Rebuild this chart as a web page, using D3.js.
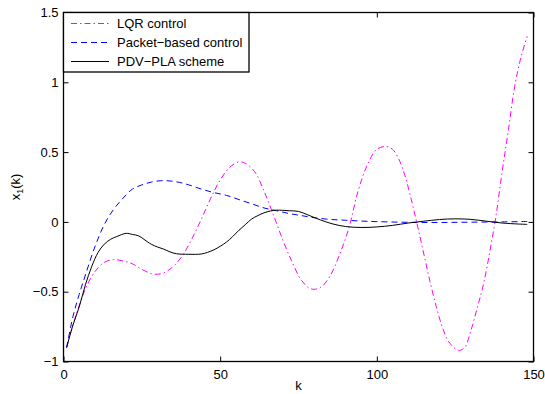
<!DOCTYPE html>
<html>
<head>
<meta charset="utf-8">
<script src="https://cdn.jsdelivr.net/npm/d3@7"></script>
<style>
  body { margin: 0; background: #fff; }
  svg { display: block; font-family: "Liberation Sans", Arial, Helvetica, sans-serif; }
</style>
</head>
<body>
<svg id="chart" width="545" height="394"></svg>
<script>
// ---- data ----
const lqrK = [1,3,5,7,9,11,13,16,19,22,25,28,30,32,35,38,41,44,47,50,53,56,58,61,64,67,70,73,76,79,82,85,88,91,94,97,100,103,105,107,109,111,113,115,117,119,121,123,126,128,130,132,134,136,138,140,142,144,146,148];
const lqrV = [-0.90,-0.74,-0.60,-0.48,-0.39,-0.33,-0.29,-0.27,-0.28,-0.30,-0.34,-0.37,-0.375,-0.365,-0.32,-0.24,-0.12,0.02,0.17,0.30,0.39,0.43,0.42,0.36,0.22,0.05,-0.13,-0.29,-0.42,-0.48,-0.47,-0.39,-0.24,-0.05,0.22,0.41,0.52,0.54,0.52,0.45,0.33,0.16,-0.03,-0.23,-0.43,-0.61,-0.76,-0.86,-0.92,-0.90,-0.78,-0.62,-0.45,-0.22,0.04,0.36,0.66,0.97,1.18,1.33];

const pktK = [1,3,5,7,10,13,16,19,22,25,28,31,34,37,40,44,48,52,56,60,64,68,72,76,80,85,90,95,100,110,120,130,140,148];
const pktV = [-0.90,-0.68,-0.52,-0.38,-0.18,-0.02,0.09,0.17,0.235,0.265,0.285,0.295,0.293,0.283,0.265,0.235,0.21,0.19,0.16,0.13,0.10,0.08,0.06,0.045,0.03,0.018,0.012,0.006,0.002,-0.003,-0.004,-0.002,0.0,0.003];

const pdvK = [1,3,5,7,9,11,13,15,17,20,22,24,26,28,30,32,34,36,40,44,46,48,50,52,54,56,58,60,62,64,66,68,72,75,78,82,86,90,95,100,105,110,115,120,125,130,135,140,145,148];
const pdvV = [-0.90,-0.74,-0.61,-0.45,-0.32,-0.22,-0.16,-0.125,-0.105,-0.082,-0.09,-0.10,-0.13,-0.16,-0.18,-0.195,-0.215,-0.228,-0.232,-0.23,-0.218,-0.2,-0.175,-0.145,-0.105,-0.06,-0.02,0.02,0.045,0.065,0.078,0.084,0.08,0.075,0.05,0.014,-0.015,-0.033,-0.04,-0.036,-0.025,-0.008,0.005,0.017,0.022,0.018,0.005,-0.008,-0.015,-0.018];

const xTicks = [0, 50, 100, 150];
const yTicks = [-1, -0.5, 0, 0.5, 1, 1.5];
const xTickLabels = ["0", "50", "100", "150"];
const yTickLabels = ["\u22121", "\u22120.5", "0", "0.5", "1", "1.5"];
const seriesNames = ["LQR control", "Packet\u2212based control", "PDV\u2212PLA scheme"];

// ---- layout ----
const L = 63.5, R = 533.5, T = 12.5, B = 361.5;
const svg = d3.select("#chart");
const x = d3.scaleLinear().domain([0, 150]).range([L, R]);
const y = d3.scaleLinear().domain([-1, 1.5]).range([B, T]);

const series = [
  { name: seriesNames[0], k: lqrK, v: lqrV, color: "#ff00ff", dash: "6,3,1.5,3" },
  { name: seriesNames[1], k: pktK, v: pktV, color: "#0000ff", dash: "6,4" },
  { name: seriesNames[2], k: pdvK, v: pdvV, color: "#000000", dash: null }
];

// clip
svg.append("clipPath").attr("id", "clip").append("rect")
  .attr("x", L).attr("y", T).attr("width", R - L).attr("height", B - T);

const line = d3.line()
  .x(d => x(d[0])).y(d => y(d[1]))
  .curve(d3.curveCatmullRom.alpha(0.5));

const g = svg.append("g").attr("clip-path", "url(#clip)");
series.forEach(s => {
  const pts = s.k.map((k, i) => [k, s.v[i]]);
  g.append("path").datum(pts)
    .attr("d", line)
    .attr("fill", "none")
    .attr("stroke", s.color)
    .attr("stroke-width", 1)
    .attr("stroke-dasharray", s.dash);
});

// axes (MATLAB-style: inward ticks on all four sides)
const tickLen = 5;
const axB = svg.append("g").attr("transform", `translate(0,${B})`)
  .call(d3.axisBottom(x).tickValues(xTicks).tickSizeInner(-tickLen).tickSizeOuter(0)
    .tickFormat((d, i) => xTickLabels[i]));
const axT = svg.append("g").attr("transform", `translate(0,${T})`)
  .call(d3.axisTop(x).tickValues(xTicks).tickSizeInner(-tickLen).tickSizeOuter(0).tickFormat(""));
const axL = svg.append("g").attr("transform", `translate(${L},0)`)
  .call(d3.axisLeft(y).tickValues(yTicks).tickSizeInner(-tickLen).tickSizeOuter(0)
    .tickFormat((d, i) => yTickLabels[i]));
const axR = svg.append("g").attr("transform", `translate(${R},0)`)
  .call(d3.axisRight(y).tickValues(yTicks).tickSizeInner(-tickLen).tickSizeOuter(0).tickFormat(""));

[axB, axT, axL, axR].forEach(a => {
  a.select(".domain").remove();
  a.selectAll("line").attr("stroke", "#000").attr("stroke-width", 1);
  a.selectAll("text").attr("fill", "#000").style("font-size", "13px")
    .style("font-family", '"Liberation Sans", Arial, Helvetica, sans-serif');
});
axB.selectAll("text").attr("dy", "0.71em").attr("y", 8);
axL.selectAll("text").attr("x", -5);

// frame
svg.append("rect").attr("x", L).attr("y", T).attr("width", R - L).attr("height", B - T)
  .attr("fill", "none").attr("stroke", "#000").attr("stroke-width", 1.3);

// axis labels
svg.append("text").attr("x", (L + R) / 2).attr("y", 390)
  .attr("text-anchor", "middle").style("font-size", "13px").text("k");
const yl = svg.append("text")
  .attr("transform", `translate(20,${(T + B) / 2}) rotate(-90)`)
  .attr("text-anchor", "middle").style("font-size", "13px");
yl.append("tspan").text("x");
yl.append("tspan").attr("dy", 3).style("font-size", "9px").text("1");
yl.append("tspan").attr("dy", -3).text("(k)");

// legend
const lg = svg.append("g");
lg.append("rect").attr("x", L).attr("y", T).attr("width", 185.5).attr("height", 59.5)
  .attr("fill", "#fff").attr("stroke", "#000").attr("stroke-width", 1.3);
const rowY = [23.5, 42.5, 61.5];
series.forEach((s, i) => {
  lg.append("line").attr("x1", 71).attr("x2", 109).attr("y1", rowY[i]).attr("y2", rowY[i])
    .attr("stroke", s.color).attr("stroke-width", 1).attr("stroke-dasharray", s.dash);
  lg.append("text").attr("x", 117).attr("y", rowY[i]).attr("dy", "0.35em")
    .style("font-size", "13px").attr("fill", "#000").text(s.name);
});
</script>
</body>
</html>
